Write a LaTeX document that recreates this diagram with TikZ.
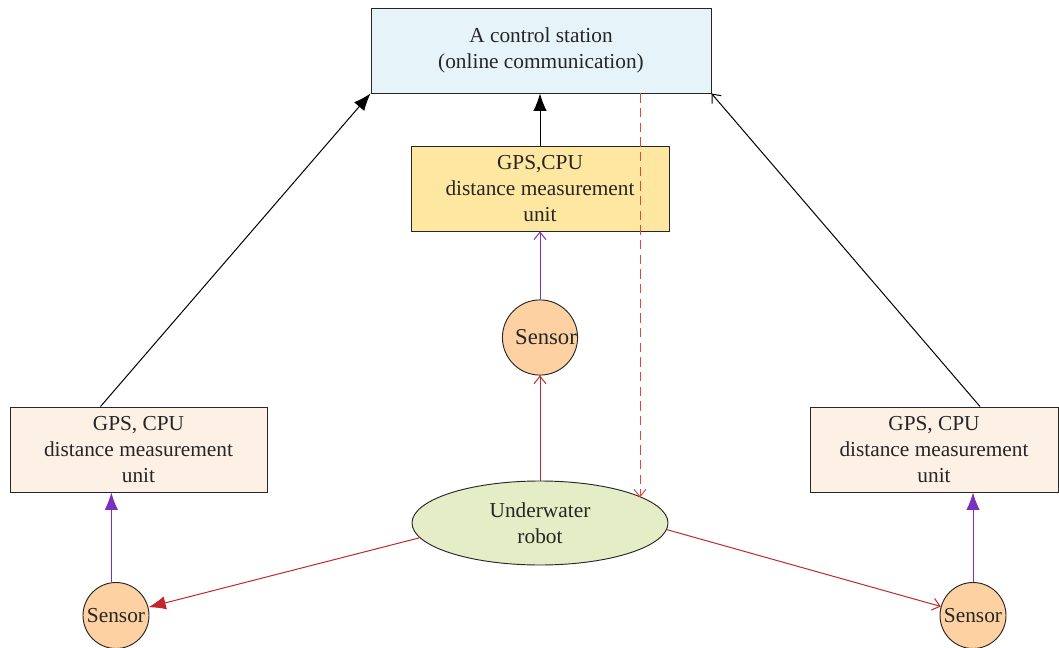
\documentclass[tikz,border=0pt]{standalone}
\usepackage{fontspec}
\setmainfont{Liberation Serif}
\usetikzlibrary{arrows.meta,calc,shapes.geometric}
\definecolor{csfill}{HTML}{E6F4F9}
\definecolor{cboxfill}{HTML}{FEE7A1}
\definecolor{sboxfill}{HTML}{FDF1E6}
\definecolor{sensfill}{HTML}{FDD1A1}
\definecolor{robfill}{HTML}{E5EDC7}
\definecolor{myred}{HTML}{C1272D}
\definecolor{dashred}{HTML}{E2463C}
\definecolor{mypurple}{HTML}{7B2FBF}
\tikzset{
  box/.style={draw=black!85, line width=0.7pt, align=center, inner sep=0pt,
    font=\fontsize{16}{19.5}\selectfont, text=black!85},
  sensnode/.style={circle, draw=black!85, line width=0.7pt, fill=sensfill,
    minimum size=49.5pt, inner sep=0pt, font=\fontsize{16}{19}\selectfont, text=black!85},
  filltip/.style={-{Latex[length=13pt,width=10pt]}},
  opentip/.style={-{Straight Barb[length=5.5pt,width=9pt]}},
  conn/.style={line width=0.75pt},
}
\begin{document}
\begin{tikzpicture}[x=0.75pt,y=-0.75pt]
\useasboundingbox (0,0) rectangle (1059,648);
\node[box, fill=csfill, minimum width=255pt, minimum height=63.75pt] (cs) at (541,50.5)
  {A control station\\(online communication)};
\node[box, fill=cboxfill, minimum width=193.5pt, minimum height=63.75pt] (cbox) at (540,188.5)
  {GPS,CPU\\distance measurement\\unit};
\node[box, fill=sboxfill, minimum width=192.75pt, minimum height=63.75pt] (lbox) at (138.5,449.5)
  {GPS, CPU\\distance measurement\\unit};
\node[box, fill=sboxfill, minimum width=186pt, minimum height=63.75pt] (rbox) at (934,449.5)
  {GPS, CPU\\distance measurement\\unit};
\node[sensnode, font=\fontsize{17}{20}\selectfont] (csens) at (540,337.5) {\hspace*{9pt}Sensor};
\node[sensnode] (lsens) at (116,615.5) {Sensor};
\node[sensnode] (rsens) at (973,615.5) {Sensor};
\node[ellipse, draw=black!85, line width=0.7pt, fill=robfill, minimum width=192pt,
  minimum height=63pt, inner sep=0pt, align=center, font=\fontsize{16}{19.5}\selectfont,
  text=black!85] (robot) at (540,523) {Underwater\\robot};
% upward links to control station
\draw[conn, filltip] ($(lbox.north)+(-38,0)$) -- (cs.south west);
\draw[conn, opentip] ($(rbox.north)+(46,0)$) -- (cs.south east);
\draw[conn, filltip] (cbox.north) -- (cbox.north |- cs.south);
% dashed command link
\draw[conn, dashred, dash pattern=on 7pt off 4pt, opentip]
  ($(cs.south)+(99,0)$) coordinate (d) -- (d |- robot.14.7);
% sensors to units
\draw[conn, mypurple, opentip] (csens.north) -- (cbox.south);
\draw[conn, mypurple, filltip] (lsens.98) -- (lsens.98 |- lbox.south);
\draw[conn, mypurple, filltip] (rsens.north) -- (rsens.north |- rbox.south);
% robot to sensors
\draw[conn, myred, opentip] (robot.north) -- (csens.south);
\draw[conn, myred, filltip] (robot.187) -- (lsens);
\draw[conn, myred, opentip] (robot.-3) -- (rsens);
\end{tikzpicture}
\end{document}
